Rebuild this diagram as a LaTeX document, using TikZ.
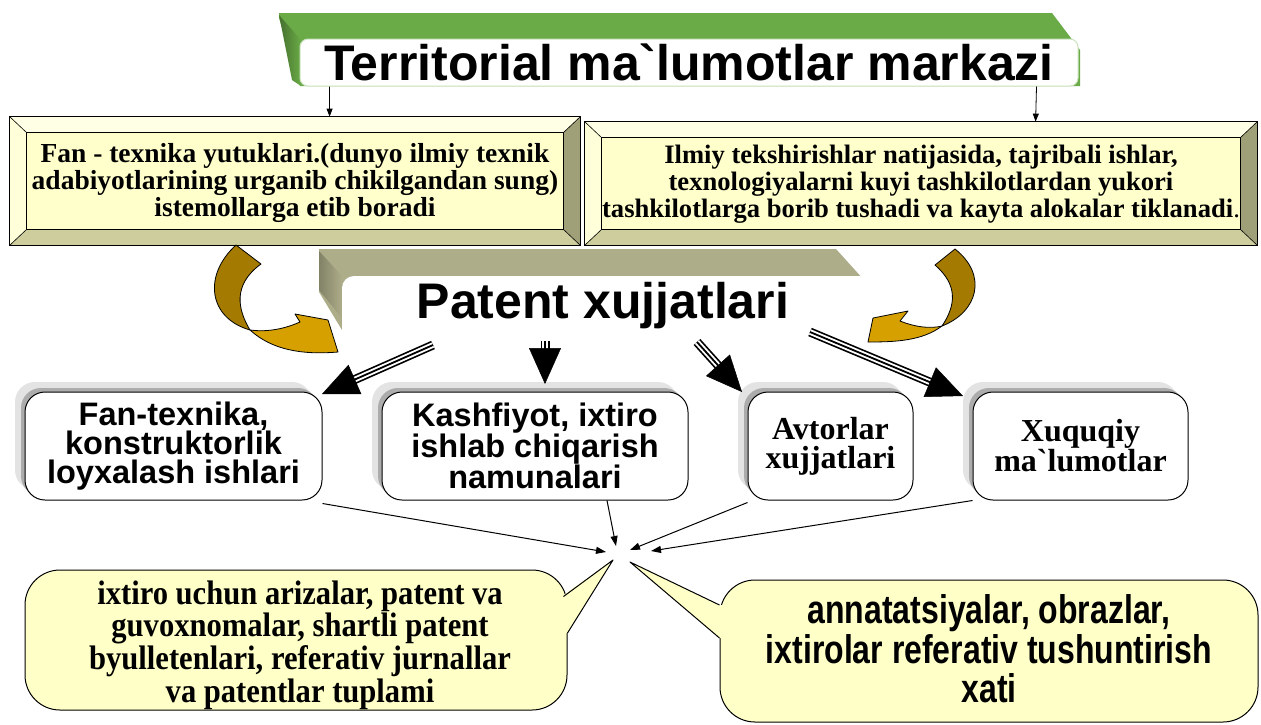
\documentclass[tikz,border=0pt]{standalone}
\usepackage{fontspec}
\usepackage{graphicx}
\setmainfont{Liberation Serif}[Ligatures=TeXOff]
\newfontfamily\arial{Liberation Sans}[Ligatures=TeXOff]
\usetikzlibrary{arrows.meta,calc,shadows}
\definecolor{gold1}{HTML}{A47A00}
\definecolor{gold2}{HTML}{D6A000}
\definecolor{face}{HTML}{FFFFCC}
\definecolor{bevT}{HTML}{FFFFE6}
\definecolor{bevL}{HTML}{FFFFD9}
\definecolor{bevR}{HTML}{A0A078}
\definecolor{bevB}{HTML}{CDCD9E}
\definecolor{olive}{HTML}{ADAD8A}
\definecolor{grn}{HTML}{6AAB47}
\definecolor{bub}{HTML}{FFFFC8}
\newcommand\bevelframe[1]{%
 \fill[bevT] (#1.north west) -- (#1.north east) -- ($(#1.north east)+(-17,16)$) -- ($(#1.north west)+(17,16)$) -- cycle;
 \fill[bevL] (#1.north west) -- ($(#1.north west)+(17,16)$) -- ($(#1.south west)+(17,-16)$) -- (#1.south west) -- cycle;
 \fill[bevR] (#1.north east) -- ($(#1.north east)+(-17,16)$) -- ($(#1.south east)+(-17,-16)$) -- (#1.south east) -- cycle;
 \fill[bevB] (#1.south west) -- ($(#1.south west)+(17,-16)$) -- ($(#1.south east)+(-17,-16)$) -- (#1.south east) -- cycle;
 \draw[line width=0.9pt] (#1.north west) rectangle (#1.south east);
 \draw[line width=0.9pt] ($(#1.north west)+(17,16)$) rectangle ($(#1.south east)+(-17,-16)$);
 \draw[line width=0.6pt] (#1.north west) -- ++(17,16) (#1.north east) -- ++(-17,16)
   (#1.south west) -- ++(17,-16) (#1.south east) -- ++(-17,-16);
}
\newcommand\triplearrow[2]{%
 \draw[line width=9pt, shorten >=28pt] (#1) -- (#2);
 \draw[white, line width=5.6pt, shorten >=27pt] (#1) -- (#2);
 \draw[line width=1.8pt, shorten >=27pt] (#1) -- (#2);
 \draw[-{Triangle[length=36pt,width=32pt]}, line width=0.5pt] (#1) -- (#2);
}
\begin{document}
\begin{tikzpicture}[x=1pt,y=-1pt,
  bev/.style={fill=face, draw=black, line width=0.8pt, inner sep=0pt, align=center},
  rbox/.style={draw=black, line width=1pt, fill=white, rounded corners=20pt, inner sep=0pt, align=center,
    general shadow={shadow xshift=-10pt,shadow yshift=10pt,fill=gray!22},
    general shadow={shadow xshift=-4pt,shadow yshift=4pt,fill=gray!65}},
  sansbig/.style={font=\arial\bfseries\fontsize{32.5}{29}\selectfont},
  serifbig/.style={font=\bfseries\fontsize{32}{29}\selectfont},
  bubble/.style={draw=black, line width=1pt, fill=bub, rounded corners=35pt, inner sep=0pt},
  thinarr/.style={-{Triangle[length=10pt,width=7pt]}, line width=1pt},
  toparr/.style={-{Triangle[length=8pt,width=6pt]}, line width=0.8pt},
  goldD/.style={fill=gold1, draw=black, line width=0.8pt, line join=round},
  goldL/.style={fill=gold2, draw=black, line width=0.8pt, line join=round},
  titlebox/.style={fill=white, draw=grn!35, line width=1pt, rounded corners=8pt, inner sep=0pt,
    font=\arial\bfseries\fontsize{50}{50}\selectfont},
]
\useasboundingbox (0,0) rectangle (1261,724);
\fill[white] (0,0) rectangle (1261,724);

% title banner
\fill[grn] (279,13) -- (1052,13) -- (1080,50) -- (1080,86) -- (300,86) -- (279,18) -- cycle;
\shade[left color=grn!65!black, right color=grn] (279,15) -- (301,40) -- (301,86) -- (292,80) -- cycle;
\node[titlebox, minimum width=778pt, minimum height=47pt] (title) at (689,62.5) {Territorial ma`lumotlar markazi};

% top bevel boxes
\node[bev, minimum width=570pt, minimum height=128pt] (lt) at (295,181) {};
\bevelframe{lt}
\node[font=\bfseries\fontsize{27.5}{27}\selectfont, align=center, inner sep=0pt] (ltxt) at ($(lt.center)+(0,2)$)
  {Fan - texnika yutuklari.(dunyo ilmiy texnik\\adabiyotlarining urganib chikilgandan sung)\\istemollarga etib boradi};
\node[bev, minimum width=672pt, minimum height=123pt] (rt) at (921,183.5) {};
\bevelframe{rt}
\node[font=\bfseries\fontsize{26.6}{27}\selectfont, align=center, inner sep=0pt] (rtxt) at ($(rt.center)+(0,1)$)
  {Ilmiy tekshirishlar natijasida, tajribali ishlar,\\texnologiyalarni kuyi tashkilotlardan yukori\\tashkilotlarga borib tushadi va kayta alokalar tiklanadi{\mdseries .}};

\draw[toparr] ($(title.south west)+(30,0)$) -- ($(lt.north west)+(320,0)$);
\draw[toparr] ($(title.south east)+(-42,0)$) -- ($(rt.north west)+(451,0)$);

% patent banner
\fill[olive] (319,249) -- (836,249) -- (864,280) -- (864,330) -- (342,330) -- (319,292) -- cycle;
\shade[left color=olive!75!black, right color=olive] (319,251) -- (342,276) -- (342,318) -- (319,290) -- cycle;
\node[fill=white, rounded corners=12pt, minimum width=530pt, minimum height=70pt, inner sep=0pt] (patent) at (607,311) {};
\node[font=\arial\bfseries\fontsize{50}{50}\selectfont, inner sep=0pt] (ptxt) at (603,306) {Patent xujjatlari};

% gold curved arrows
\path[goldD] (236,245) .. controls (203,275) and (208,318) .. (250,330)
   .. controls (238,310) and (232,285) .. (261,264) -- cycle;
\path[goldL] (250,330) .. controls (272,350) and (302,355) .. (338,352) -- (328,320) -- (295,314) -- (300,322)
   .. controls (282,330) and (265,332) .. (250,330) -- cycle;
\path[goldD] (955,249) .. controls (988,275) and (978,312) .. (942,326)
   .. controls (956,305) and (958,285) .. (935,265) -- cycle;
\path[goldL] (942,326) .. controls (922,341) and (895,342) .. (868,342) -- (873,318) -- (908,311) -- (900,321)
   .. controls (915,327) and (930,329) .. (942,326) -- cycle;

% four boxes
\node[rbox, sansbig, minimum width=297pt, minimum height=108pt] (A) at (173.5,446) {Fan-texnika,\\konstruktorlik\\loyxalash ishlari};
\node[rbox, sansbig, minimum width=306pt, minimum height=108pt] (B) at (535,446) {Kashfiyot, ixtiro\\ishlab chiqarish\\namunalari};
\node[rbox, serifbig, minimum width=165pt, minimum height=108pt] (C) at (830.5,446) {Avtorlar\\xujjatlari};
\node[rbox, serifbig, minimum width=215pt, minimum height=108pt] (D) at (1080.5,446) {Xuquqiy\\ma`lumotlar};

% triple arrows
\coordinate (t1) at (433,345); \coordinate (h1) at (322,394);
\coordinate (t2) at (545,341); \coordinate (h2) at (545,384);
\coordinate (t3) at (697,342); \coordinate (h3) at (742,392);
\coordinate (t4) at (810,332); \coordinate (h4) at (963,396);
\triplearrow{t1}{h1}
\triplearrow{t2}{h2}
\triplearrow{t3}{h3}
\triplearrow{t4}{h4}

% converging arrows
\coordinate (p1) at (606,552);
\coordinate (p2) at (616,546);
\coordinate (p3) at (630,550);
\coordinate (p4) at (651,551);
\draw[thinarr] ($(A.south east)+(0,3)$) -- (p1);
\draw[thinarr] ($(B.south)+(72,0)$) -- (p2);
\draw[thinarr] ($(C.south west)+(0,2)$) -- (p3);
\draw[thinarr] ($(D.south west)+(0,0)$) -- (p4);

% callouts
\node[bubble, minimum width=542pt, minimum height=140pt] (lb) at (296,640) {};
\node[bubble, minimum width=538pt, minimum height=142pt] (rb) at (989,651) {};
\coordinate (lt1) at (613,560);
\coordinate (rt1) at (630,562);
\fill[bub] ($(lb.north east)+(-6,27)$) -- (lt1) -- ($(lb.east)+(0,-7)$) -- ($(lb.east)+(-6,-7)$) -- cycle;
\draw[line width=1pt, line join=round] ($(lb.north east)+(-4,27)$) -- (lt1) -- ($(lb.east)+(0,-7)$);
\fill[bub] ($(rb.west)+(0,-46)$) -- (rt1) -- ($(rb.west)+(0,-13)$) -- ($(rb.west)+(5,-13)$) -- ($(rb.west)+(5,-46)$) -- cycle;
\draw[line width=1pt, line join=round] ($(rb.west)+(0,-46)$) -- (rt1) -- ($(rb.west)+(0,-13)$);
\node[inner sep=0pt] (lbt) at ($(lb.center)+(4,6)$)
 {\scalebox{0.9}[1]{\bfseries\fontsize{34}{29.5}\selectfont\begin{tabular}{@{}c@{}}ixtiro uchun arizalar, patent va\\guvoxnomalar, shartli patent\\byulletenlari, referativ jurnallar\\va patentlar tuplami\end{tabular}}};
\node[inner sep=0pt] (rbt) at ($(rb.center)+(0,3)$)
 {\scalebox{0.8}[1]{\arial\bfseries\fontsize{40}{36}\selectfont\begin{tabular}{@{}c@{}}annatatsiyalar, obrazlar,\\ixtirolar referativ tushuntirish\\xati\end{tabular}}};
\end{tikzpicture}
\end{document}
